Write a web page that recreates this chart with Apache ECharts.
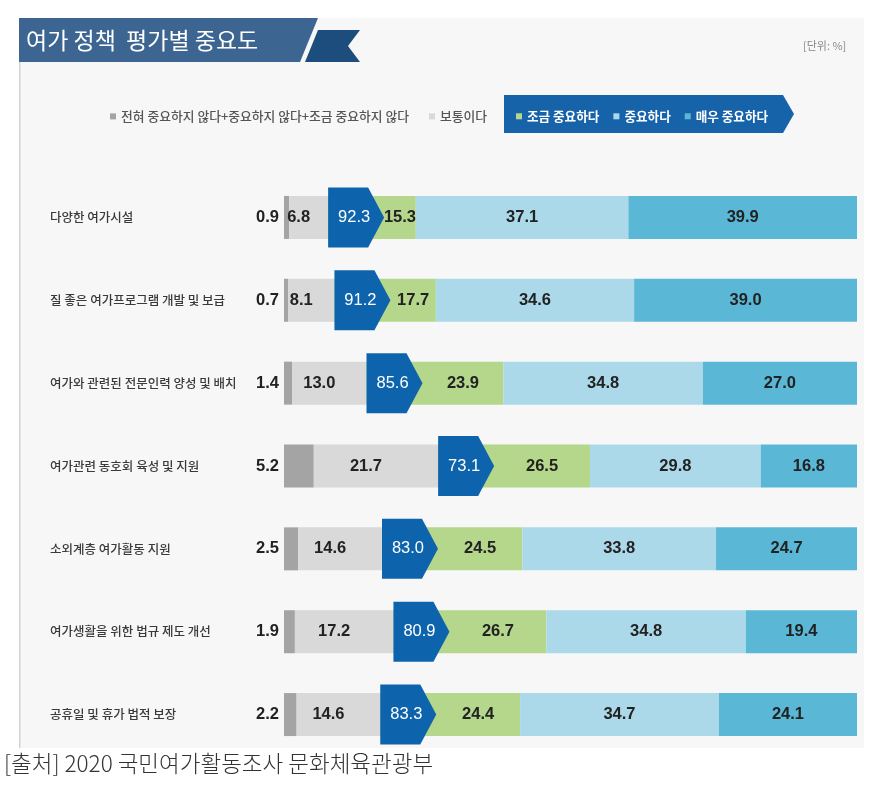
<!DOCTYPE html>
<html>
<head>
<meta charset="utf-8">
<script src="https://cdn.jsdelivr.net/npm/echarts@6/dist/echarts.min.js"></script>
<style>
  html, body { margin: 0; padding: 0; background: #fff; }
  #chart { width: 882px; height: 785px; }
</style>
</head>
<body>
<div id="chart"></div>
<script>
var categories = [
  '다양한 여가시설',
  '질 좋은 여가프로그램 개발 및 보급',
  '여가와 관련된 전문인력 양성 및 배치',
  '여가관련 동호회 육성 및 지원',
  '소외계층 여가활동 지원',
  '여가생활을 위한 법규 제도 개선',
  '공휴일 및 휴가 법적 보장'
];
var seriesNames = [
  '전혀 중요하지 않다+중요하지 않다+조금 중요하지 않다',
  '보통이다',
  '조금 중요하다',
  '중요하다',
  '매우 중요하다'
];
var notImportant = [0.9, 0.7, 1.4, 5.2, 2.5, 1.9, 2.2];
var neutral = [6.8, 8.1, 13.0, 21.7, 14.6, 17.2, 14.6];
var slightly = [15.3, 17.7, 23.9, 26.5, 24.5, 26.7, 24.4];
var important = [37.1, 34.6, 34.8, 29.8, 33.8, 34.8, 34.7];
var veryImportant = [39.9, 39.0, 27.0, 16.8, 24.7, 19.4, 24.1];
var importantTotal = [92.3, 91.2, 85.6, 73.1, 83.0, 80.9, 83.3];

var colors = ['#a4a4a4', '#d9d9d9', '#b4d78b', '#acd9ea', '#5ab8d6'];
var numFont = '"Liberation Sans Narrow", "Liberation Sans", Arial, sans-serif';
var krFont = '"Noto Sans CJK KR", "Noto Sans", sans-serif';

function fmt(p) { return p.value.toFixed(1); }

function barSeries(i, data, label) {
  return {
    name: seriesNames[i],
    type: 'bar',
    stack: 'total',
    barWidth: 43,
    data: data,
    itemStyle: { color: colors[i] },
    label: Object.assign({
      show: true,
      formatter: fmt,
      color: '#222',
      fontSize: 16.5,
      fontWeight: 'bold',
      fontFamily: numFont
    }, label)
  };
}

// start of the blue "important" marker = notImportant + neutral
var arrowData = categories.map(function (c, i) {
  return [Math.round((notImportant[i] + neutral[i]) * 10) / 10, i, importantTotal[i]];
});

var chart = echarts.init(document.getElementById('chart'));
chart.setOption({
  animation: false,
  backgroundColor: '#fff',
  title: {
    text: '여가 정책  평가별 중요도',
    left: 21,
    top: 24,
    textStyle: { color: '#fff', fontSize: 23, fontWeight: 'normal', fontFamily: krFont }
  },
  graphic: [
    { type: 'rect', z: -10, shape: { x: 19, y: 18, width: 845, height: 730 }, style: { fill: '#f7f7f7' } },
    { type: 'rect', z: -9, shape: { x: 19, y: 62, width: 1.5, height: 686 }, style: { fill: '#d4d4d4' } },
    { type: 'polygon', z: -8, shape: { points: [[19, 18], [318, 18], [300, 62], [19, 62]] }, style: { fill: '#3c6591' } },
    { type: 'polygon', z: -8, shape: { points: [[318, 30], [360, 30], [348, 46], [360, 62], [305, 62]] }, style: { fill: '#1d4d7c' } },
    { type: 'polygon', z: -8, shape: { points: [[504, 95], [783, 95], [794, 114], [783, 133], [504, 133]] }, style: { fill: '#1663aa' } },
    {
      type: 'text', left: 803, top: 40,
      style: { text: '[단위: %]', fill: '#888', fontSize: 11, fontFamily: krFont }
    },
    {
      type: 'text', left: 4, top: 752,
      style: { text: '[출처] 2020 국민여가활동조사 문화체육관광부', fill: '#333', fontSize: 22.5, fontWeight: 300, fontFamily: krFont }
    }
  ],
  legend: [
    {
      data: seriesNames.slice(0, 2),
      left: 105, top: 105,
      icon: 'rect', itemWidth: 6, itemHeight: 6, itemGap: 20,
      selectedMode: false,
      textStyle: { color: '#555', fontSize: 12.8, fontWeight: 500, fontFamily: krFont }
    },
    {
      data: seriesNames.slice(2),
      left: 511, top: 105,
      icon: 'rect', itemWidth: 6, itemHeight: 6, itemGap: 14,
      selectedMode: false,
      textStyle: { color: '#fff', fontSize: 12.6, fontWeight: 'bold', fontFamily: krFont }
    }
  ],
  grid: { left: 284, right: 25, top: 176, bottom: 29, outerBoundsMode: 'none' },
  xAxis: { type: 'value', min: 0, max: 100, show: false },
  yAxis: {
    type: 'category',
    inverse: true,
    data: categories,
    axisLine: { show: false },
    axisTick: { show: false },
    axisLabel: { align: 'left', margin: 234, color: '#3a3a3a', fontSize: 12.5, fontWeight: 500, fontFamily: krFont }
  },
  series: [
    barSeries(0, notImportant, { position: 'left', distance: 5 }),
    barSeries(1, neutral, { position: 'inside', offset: [-10, 0] }),
    barSeries(2, slightly, { position: 'inside', offset: [28, 0] }),
    barSeries(3, important, { position: 'inside' }),
    barSeries(4, veryImportant, { position: 'inside' }),
    {
      type: 'custom',
      name: '중요 합계',
      data: arrowData,
      encode: { x: 0, y: 1 },
      z: 5,
      renderItem: function (params, api) {
        var p = api.coord([api.value(0), api.value(1)]);
        var x = p[0], y = p[1], h = 30, body = 40, tip = 16;
        return {
          type: 'group',
          children: [
            {
              type: 'polygon',
              shape: { points: [[x, y - h], [x + body, y - h], [x + body + tip, y], [x + body, y + h], [x, y + h]] },
              style: { fill: '#0e64ac' }
            },
            {
              type: 'text',
              style: {
                text: api.value(2).toFixed(1),
                x: x + 26, y: y,
                align: 'center', verticalAlign: 'middle',
                fill: '#fff', fontSize: 16.5, fontFamily: numFont
              }
            }
          ]
        };
      }
    }
  ]
});
window.addEventListener('resize', function () { chart.resize(); });
</script>
</body>
</html>
